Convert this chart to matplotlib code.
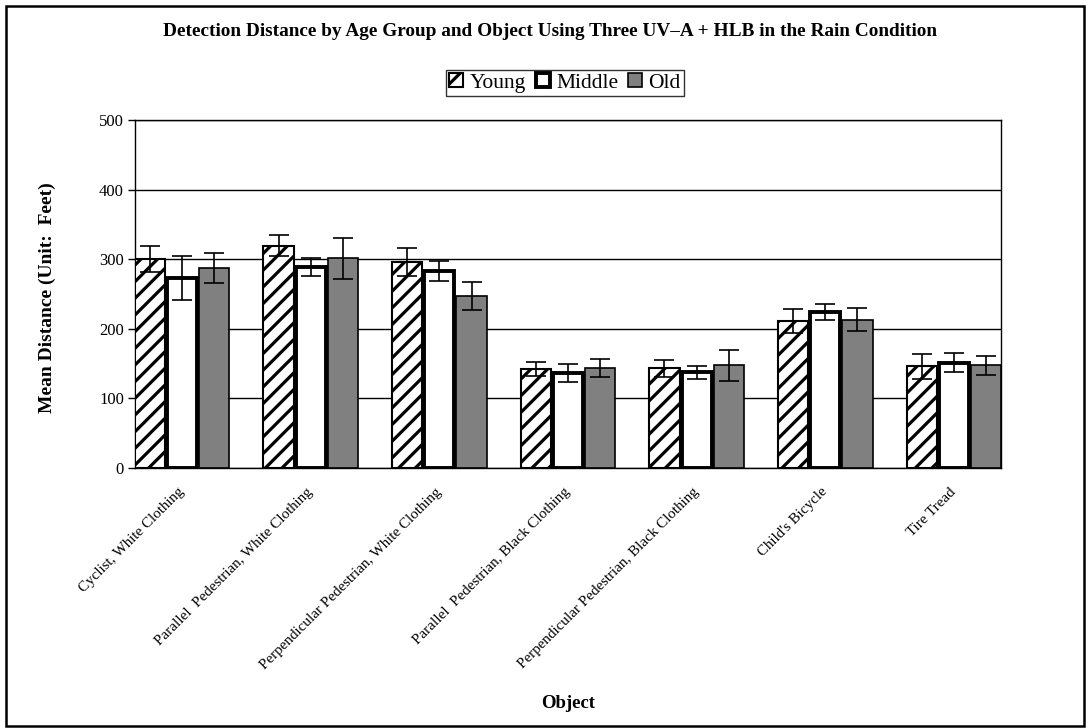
import matplotlib
matplotlib.use("Agg")
import matplotlib.pyplot as plt
import numpy as np
from matplotlib.patches import Rectangle

categories = ["Cyclist, White Clothing", "Parallel  Pedestrian, White Clothing",
              "Perpendicular Pedestrian, White Clothing", "Parallel  Pedestrian, Black Clothing",
              "Perpendicular Pedestrian, Black Clothing", "Child's Bicycle", "Tire Tread"]
young = [300, 319, 296, 142, 143, 211, 146]
young_err = [19, 15, 20, 10, 12, 17, 18]
middle = [273, 288, 283, 136, 137, 224, 151]
middle_err = [32, 13, 14, 13, 9, 12, 14]
old = [287, 301, 247, 143, 147, 213, 147]
old_err = [22, 29, 20, 13, 22, 17, 13]
yticks = [0, 100, 200, 300, 400, 500]

plt.rcParams['font.family'] = ['Liberation Serif', 'DejaVu Serif']
plt.rcParams['hatch.linewidth'] = 2.3

fig = plt.figure(figsize=(10.9, 7.28), dpi=100)
ax = fig.add_axes([135/1090, 1-467.7/728, (1001-135)/1090, (467.7-120)/728])

x = np.arange(len(categories))
w = 0.235
pitch = 0.25
ekw = dict(ecolor='black', elinewidth=1.2, capsize=7, capthick=1.2)
b1 = ax.bar(x - pitch, young, w, yerr=young_err, facecolor='white', edgecolor='black',
            hatch='//', linewidth=1.5, error_kw=ekw, zorder=3, label='Young')
b2 = ax.bar(x, middle, w, yerr=middle_err, facecolor='white', edgecolor='black',
            linewidth=2.8, error_kw=ekw, zorder=3, label='Middle')
b3 = ax.bar(x + pitch, old, w, yerr=old_err, facecolor='#808080', edgecolor='black',
            linewidth=1.2, error_kw=ekw, zorder=3, label='Old')

ax.set_ylim(0, 500)
ax.set_xlim(-0.366, 6.366)
ax.set_yticks(yticks)
ax.set_yticklabels([str(v) for v in yticks], fontsize=12)
ax.yaxis.grid(True, color='black', linewidth=1.0, zorder=0)
ax.set_axisbelow(True)
ax.tick_params(axis='y', direction='out', length=5, width=1, pad=3)
ax.tick_params(axis='x', length=0, pad=16)
ax.set_xticks(x)
ax.set_xticklabels(categories, rotation=45, ha='right', va='center', rotation_mode='anchor',
                   fontsize=10.8)
for s in ax.spines.values():
    s.set_linewidth(1.0)
    s.set_color('black')

fig.text(47/1090, 1 - 298/728, 'Mean Distance (Unit:  Feet)', rotation=90, ha='center',
         va='center', fontsize=14, fontweight='bold')
fig.text(0.5 * (135 + 1001) / 1090, 1 - 703/728, 'Object', ha='center', va='center',
         fontsize=13.5, fontweight='bold')
fig.text(550 / 1090, 1 - 32/728,
         'Detection Distance by Age Group and Object Using Three UV\u2013A + HLB in the Rain Condition',
         ha='center', va='center', fontsize=13.9, fontweight='bold')

leg = ax.legend(handles=[b1, b2, b3], loc='center', bbox_to_anchor=(565/1090, 1 - 83/728),
                bbox_transform=fig.transFigure, ncol=3, fontsize=15.5, frameon=True,
                fancybox=False, edgecolor='black', handlelength=0.65, handleheight=0.65,
                handletextpad=0.3, columnspacing=0.45, borderpad=0.15, borderaxespad=0)
leg.get_frame().set_linewidth(1.0)

fig.patches.append(Rectangle((6/1090, 1 - 726/728), 1078/1090, 720/728,
                             transform=fig.transFigure, fill=False, edgecolor='black',
                             linewidth=1.8))
fig.savefig('out.png', dpi=100)
